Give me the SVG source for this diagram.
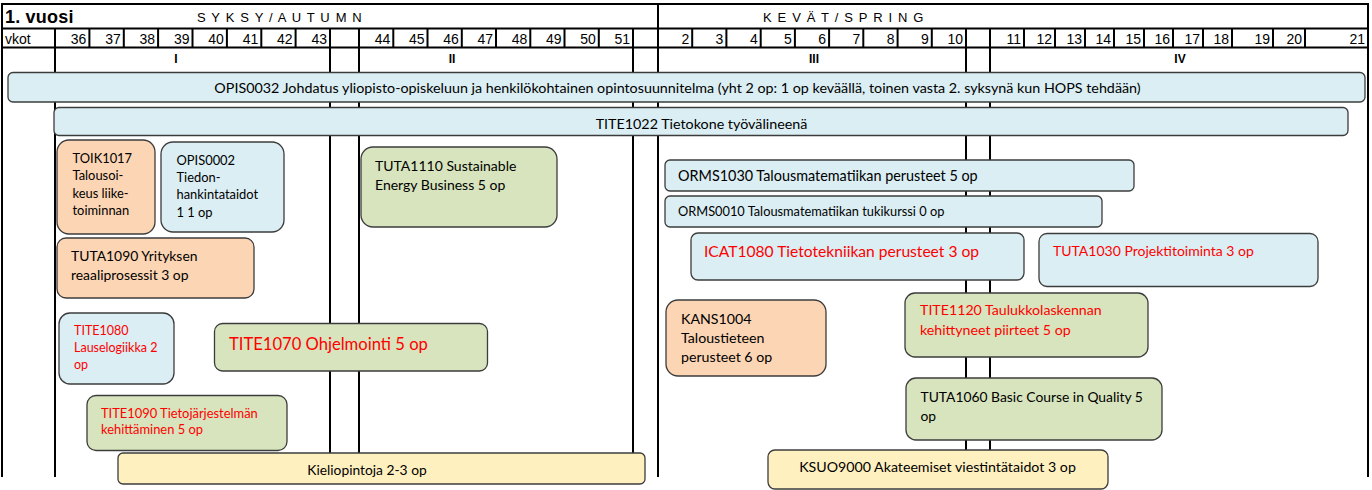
<svg xmlns="http://www.w3.org/2000/svg" width="1372" height="490" viewBox="0 0 1372 490">
<style>
.bg{fill:#fff}
.g{stroke:#000;stroke-width:2;fill:none}
.h{font-family:"Liberation Sans",Arial,sans-serif;font-size:14px;fill:#000}
.wk{text-anchor:end}
.sea{font-size:13px;letter-spacing:1.15px}
.per{font-weight:bold;font-size:12px;text-anchor:middle}
.box{stroke:#3c3c3c;stroke-width:1.3}
.blue{fill:#DAEEF3}.peach{fill:#FCD5B4}.green{fill:#D7E4BD}.yellow{fill:#FFF0C0}
.t{font-family:Lato,"Open Sans",sans-serif;font-size:13px;fill:#000}
.red{fill:#FF0000}
.mid{text-anchor:middle}
</style>
<rect class="bg" x="0" y="0" width="1372" height="490"/>
<g id="grid">
<path class="g" d="M1,4H1369M1,28.5H1369M1,47.5H1369"/>
<path class="g" d="M2,3V477M1368,3V477M55,28V477M330,28V477M359,28V477M633,28V477M658,3V477M966,28V477M990,28V477"/>
<path class="g" d="M89.4,28V47.5M123.8,28V47.5M158.1,28V47.5M192.5,28V47.5M226.9,28V47.5M261.3,28V47.5M295.6,28V47.5M393.3,28V47.5M427.5,28V47.5M461.8,28V47.5M496,28V47.5M530.3,28V47.5M564.5,28V47.5M598.8,28V47.5M692.2,28V47.5M726.4,28V47.5M760.7,28V47.5M794.9,28V47.5M829.1,28V47.5M863.3,28V47.5M897.6,28V47.5M931.8,28V47.5M1024,28V47.5M1055,28V47.5M1085,28V47.5M1114,28V47.5M1144,28V47.5M1173,28V47.5M1203,28V47.5M1232,28V47.5M1273,28V47.5M1305,28V47.5"/>
</g>
<g id="header">
<text class="h" x="5" y="23" style="font-weight:bold;font-size:18px;letter-spacing:0.2px">1. vuosi</text>
<text class="h sea" x="197" y="22">S Y K S Y / A U T U M N</text>
<text class="h sea" x="763" y="22">K E V Ä T / S P R I N G</text>
<text class="h" x="5" y="44">vkot</text>
<g class="h wk">
<text x="86.4" y="44">36</text><text x="120.8" y="44">37</text><text x="155.1" y="44">38</text><text x="189.5" y="44">39</text><text x="223.9" y="44">40</text><text x="258.3" y="44">41</text><text x="292.6" y="44">42</text><text x="327" y="44">43</text>
<text x="390.3" y="44">44</text><text x="424.5" y="44">45</text><text x="458.8" y="44">46</text><text x="493" y="44">47</text><text x="527.3" y="44">48</text><text x="561.5" y="44">49</text><text x="595.8" y="44">50</text><text x="630" y="44">51</text>
<text x="689.2" y="44">2</text><text x="723.4" y="44">3</text><text x="757.7" y="44">4</text><text x="791.9" y="44">5</text><text x="826.1" y="44">6</text><text x="860.3" y="44">7</text><text x="894.6" y="44">8</text><text x="928.8" y="44">9</text><text x="963" y="44">10</text>
<text x="1021" y="44">11</text><text x="1052" y="44">12</text><text x="1082" y="44">13</text><text x="1111" y="44">14</text><text x="1141" y="44">15</text><text x="1170" y="44">16</text><text x="1200" y="44">17</text><text x="1229" y="44">18</text><text x="1270" y="44">19</text><text x="1302" y="44">20</text><text x="1365" y="44">21</text>
</g>
<text class="h per" x="176" y="63">I</text>
<text class="h per" x="452" y="63">II</text>
<text class="h per" x="814" y="63">III</text>
<text class="h per" x="1180" y="63">IV</text>
</g>
<g id="OPIS0032"><rect class="box blue" x="8" y="72.5" width="1357" height="29.5" rx="5"/><text class="t mid" x="677.5" y="92.5" style="font-size:14.3px">OPIS0032 Johdatus yliopisto-opiskeluun ja henkilökohtainen opintosuunnitelma  (yht 2 op: 1 op keväällä, toinen vasta 2. syksynä kun HOPS tehdään)</text></g>
<g id="TITE1022"><rect class="box blue" x="54" y="107.5" width="1294" height="28" rx="5"/><text class="t mid" x="701.5" y="129" style="font-size:14.3px">TITE1022 Tietokone työvälineenä</text></g>
<g id="TOIK1017"><rect class="box peach" x="57" y="140" width="98" height="94" rx="12"/><text class="t" style="font-size:12.9px"><tspan x="72.5" y="162.5">TOIK1017</tspan><tspan x="72.5" y="180">Talousoi-</tspan><tspan x="72.5" y="197.5">keus liike-</tspan><tspan x="72.5" y="214.5">toiminnan</tspan></text></g>
<g id="OPIS0002"><rect class="box blue" x="161" y="142" width="123" height="90" rx="12"/><text class="t" style="font-size:12.9px"><tspan x="176.5" y="164.5">OPIS0002</tspan><tspan x="176.5" y="182">Tiedon-</tspan><tspan x="176.5" y="199">hankintataidot</tspan><tspan x="176.5" y="216.5">1 1 op</tspan></text></g>
<g id="TUTA1110"><rect class="box green" x="361" y="147" width="196" height="80" rx="12"/><text class="t" style="font-size:14px"><tspan x="375" y="171">TUTA1110 Sustainable</tspan><tspan x="375" y="189.5">Energy Business 5 op</tspan></text></g>
<g id="ORMS1030"><rect class="box blue" x="665" y="160" width="469" height="31" rx="5"/><text class="t" x="678" y="181" style="font-size:14.4px">ORMS1030 Talousmatematiikan perusteet 5 op</text></g>
<g id="ORMS0010"><rect class="box blue" x="665" y="196" width="437" height="31" rx="5"/><text class="t" x="678" y="216" style="font-size:12.8px">ORMS0010 Talousmatematiikan tukikurssi 0 op</text></g>
<g id="ICAT1080"><rect class="box blue" x="691" y="233" width="333" height="47" rx="7"/><text class="t red" x="704" y="257" style="font-size:15.6px">ICAT1080 Tietotekniikan perusteet 3 op</text></g>
<g id="TUTA1030"><rect class="box blue" x="1039" y="233.5" width="279" height="53" rx="8"/><text class="t red" x="1053" y="255.5" style="font-size:14px">TUTA1030 Projektitoiminta 3 op</text></g>
<g id="TUTA1090"><rect class="box peach" x="57" y="238" width="197" height="60" rx="9"/><text class="t" style="font-size:13.9px"><tspan x="71" y="261">TUTA1090 Yrityksen</tspan><tspan x="71" y="280">reaaliprosessit 3 op</tspan></text></g>
<g id="TITE1080"><rect class="box blue" x="59" y="313" width="115" height="71" rx="11"/><text class="t red" style="font-size:12.5px"><tspan x="74" y="334.5">TITE1080</tspan><tspan x="74" y="352">Lauselogiikka 2</tspan><tspan x="74" y="368.5">op</tspan></text></g>
<g id="TITE1070"><rect class="box green" x="214.5" y="323.5" width="273" height="47.5" rx="8"/><text class="t red" x="229" y="349.5" style="font-size:16.6px">TITE1070 Ohjelmointi 5 op</text></g>
<g id="TITE1090"><rect class="box green" x="87" y="395.5" width="200" height="55" rx="9"/><text class="t red" style="font-size:12.9px"><tspan x="101" y="417.5">TITE1090 Tietojärjestelmän</tspan><tspan x="101" y="433.5">kehittäminen 5 op</tspan></text></g>
<g id="Kieliopintoja"><rect class="box yellow" x="118" y="453" width="527" height="31" rx="5"/><text class="t mid" x="367" y="475" style="font-size:13.8px">Kieliopintoja 2-3 op</text></g>
<g id="KANS1004"><rect class="box peach" x="666" y="300" width="160" height="76" rx="12"/><text class="t" style="font-size:14.2px"><tspan x="681" y="323.5">KANS1004</tspan><tspan x="681" y="342.5">Taloustieteen</tspan><tspan x="681" y="361.5">perusteet 6 op</tspan></text></g>
<g id="TITE1120"><rect class="box green" x="905" y="293" width="243" height="64" rx="10"/><text class="t red" style="font-size:14.2px"><tspan x="920" y="315">TITE1120 Taulukkolaskennan</tspan><tspan x="920" y="335">kehittyneet piirteet 5 op</tspan></text></g>
<g id="TUTA1060"><rect class="box green" x="906" y="378" width="256" height="62" rx="10"/><text class="t" style="font-size:13.85px"><tspan x="920.5" y="402">TUTA1060 Basic Course in Quality 5</tspan><tspan x="920.5" y="420.5">op</tspan></text></g>
<g id="KSUO9000"><rect class="box yellow" x="768" y="450" width="340" height="39" rx="7"/><text class="t mid" x="937.5" y="472" style="font-size:14.2px">KSUO9000 Akateemiset viestintätaidot 3 op</text></g>
</svg>
